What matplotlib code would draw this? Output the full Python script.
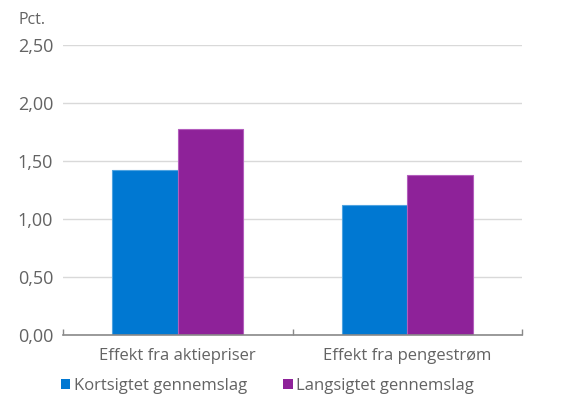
import matplotlib
matplotlib.use("Agg")
import matplotlib.pyplot as plt
import numpy as np
from matplotlib.patches import Patch

categories = ["Effekt fra aktiepriser", "Effekt fra pengestrøm"]
series_names = ["Kortsigtet gennemslag", "Langsigtet gennemslag"]
short_term = [1.42, 1.12]
long_term = [1.77, 1.38]
yticks = [0.0, 0.5, 1.0, 1.5, 2.0, 2.5]

colors = ["#0078D2", "#8E2299"]
edges = ["#4FA3E0", "#B35DBD"]
text_color = "#636363"

plt.rcParams["font.family"] = ["Open Sans", "DejaVu Sans"]

fig = plt.figure(figsize=(5.67, 3.96), dpi=100)
ax = fig.add_axes([63 / 567, 1 - 335 / 396, (522 - 63) / 567, (335 - 44.7) / 396])

x = np.arange(len(categories))
width = 0.285
ax.bar(x - width / 2, short_term, width, color=colors[0], edgecolor=edges[0], linewidth=0.8, zorder=3)
ax.bar(x + width / 2, long_term, width, color=colors[1], edgecolor=edges[1], linewidth=0.8, zorder=3)

ax.set_xlim(-0.5, len(categories) - 0.5)
ax.set_ylim(0, 2.5)
ax.set_yticks(yticks)
ax.set_yticklabels([f"{v:.2f}".replace(".", ",") for v in yticks], color=text_color, fontsize=13)
ax.yaxis.grid(True, color="#D9D9D9", linewidth=1.0, zorder=0)
ax.tick_params(axis="y", length=0, pad=7)

# category labels between boundary ticks
ax.set_xticks(x)
ax.set_xticklabels(categories, color=text_color, fontsize=12)
ax.tick_params(axis="x", length=0, pad=9)
ax.set_xticks([-0.5, 0.5, 1.5], minor=True)
ax.tick_params(axis="x", which="minor", direction="in", length=4, color="#898989", width=1)

for s in ["top", "right", "left"]:
    ax.spines[s].set_visible(False)
ax.spines["bottom"].set_color("#898989")
ax.spines["bottom"].set_linewidth(1.2)
ax.spines["bottom"].set_zorder(4)

fig.text(18 / 567, 1 - 20 / 396, "Pct.", color=text_color, fontsize=11.5, va="center", ha="left")

handles = [Patch(facecolor=c, edgecolor="none") for c in colors]
fig.legend(handles, series_names, loc="center left", bbox_to_anchor=(61 / 567, 1 - 386 / 396),
           ncol=2, frameon=False, fontsize=12, labelcolor=text_color,
           borderpad=0, borderaxespad=0,
           handlelength=0.55, handleheight=0.55, handletextpad=0.2, columnspacing=2.2)

fig.savefig("out.png", dpi=100)
